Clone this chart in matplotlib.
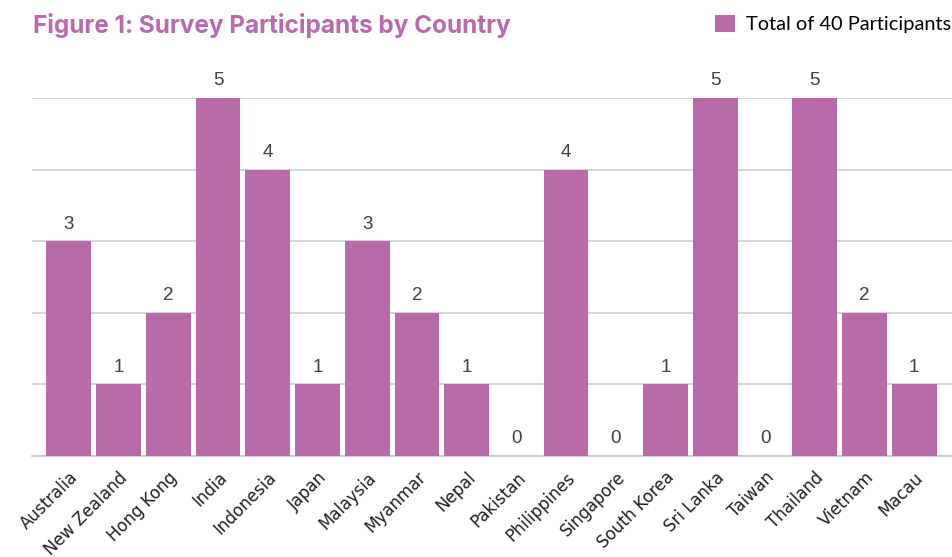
import matplotlib
matplotlib.use("Agg")
import matplotlib.pyplot as plt
import numpy as np

paises = ["Australia", "New Zealand", "Hong Kong", "India", "Indonesia", "Japan",
          "Malaysia", "Myanmar", "Nepal", "Pakistan", "Philippines", "Singapore",
          "South Korea", "Sri Lanka", "Taiwan", "Thailand", "Vietnam", "Macau"]
participantes = [3, 1, 2, 5, 4, 1, 3, 2, 1, 0, 4, 0, 1, 5, 0, 5, 2, 1]

roxo = "#b96aab"

fig = plt.figure(figsize=(9.52, 5.57), dpi=100)
ax = fig.add_axes([0.0336, 0.1813, 0.9664, 0.6427])

x = np.arange(len(paises))
barras = ax.bar(x, participantes, width=0.9, color=roxo, zorder=3,
                label="Total of 40 Participants")

for xi, v in zip(x, participantes):
    ax.text(xi, v + 0.12, str(v), ha="center", va="bottom", fontsize=13.5,
            color="#404040", family="Liberation Sans", clip_on=False)

ax.set_xlim(-0.74, 17.76)
ax.set_ylim(0, 5)
ax.set_yticks(range(0, 6))
ax.set_yticklabels([])
ax.tick_params(axis="y", length=0)
ax.grid(axis="y", color="#d0d0d0", linewidth=1.2, zorder=0)
ax.set_axisbelow(True)

ax.set_xticks(x)
ax.set_xticklabels(paises, rotation=45, ha="right", rotation_mode="anchor",
                   fontsize=12, color="#202020", family="DejaVu Sans")
ax.tick_params(axis="x", length=0, pad=9)

for lado in ["top", "right", "left"]:
    ax.spines[lado].set_visible(False)
ax.spines["bottom"].set_color("#c8c8c8")
ax.spines["bottom"].set_linewidth(1.2)

fig.text(0.035, 0.955, "Figure 1: Survey Participants by Country", fontsize=17.5,
         fontweight="bold", color=roxo, family="Inter", va="center", ha="left")

fig.legend(handles=[barras], loc="center right", bbox_to_anchor=(0.999, 0.957),
           frameon=False, handlelength=1.0, handleheight=1.0,
           handletextpad=0.55, borderaxespad=0, borderpad=0,
           prop={"family": "Lato", "size": 14.4})

fig.savefig("out.png", dpi=100)
